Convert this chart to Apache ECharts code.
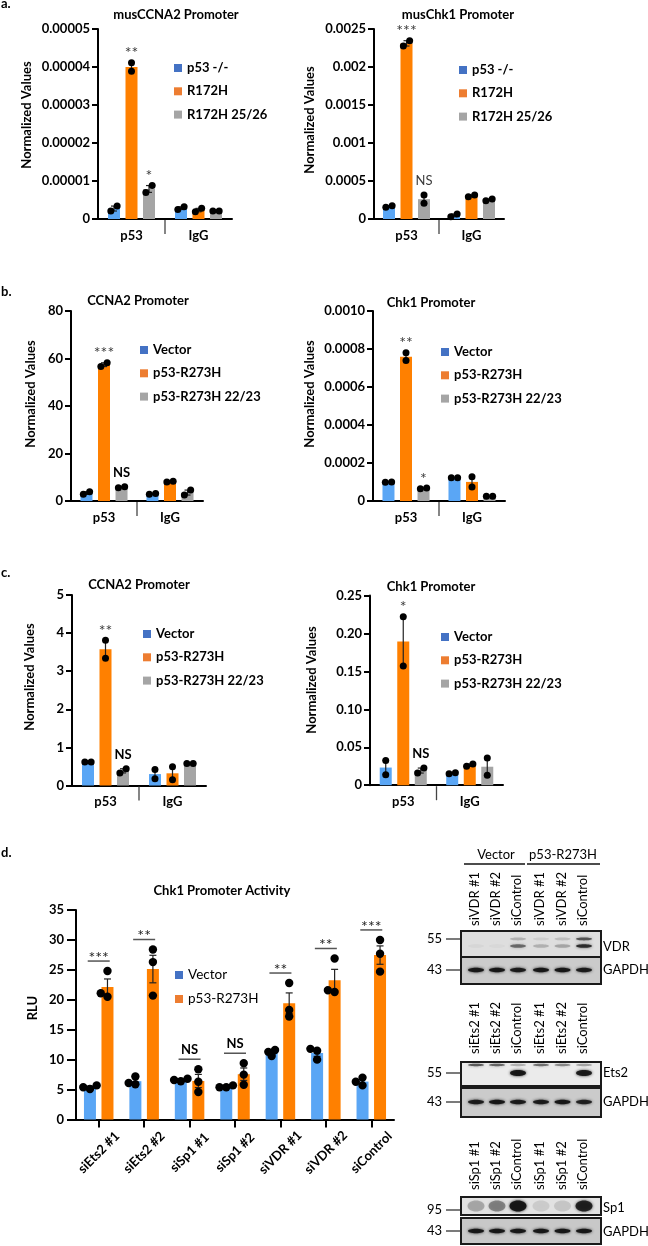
<!DOCTYPE html>
<html><head><meta charset="utf-8">
<script src="https://cdn.jsdelivr.net/npm/echarts@6/dist/echarts.min.js"></script>
<style>html,body{margin:0;padding:0;background:#fff}#c{width:648px;height:1246px}</style>
</head><body><div id="c"></div>
<script>
// ================= DATA =================
const chipGroups = ['p53', 'IgG'];

// a. musCCNA2 promoter — replicates per group [p53, IgG]
const aCcna2Names = ['p53 -/-', 'R172H', 'R172H 25/26'];
const aCcna2KO    = [[0.0000021, 0.0000034], [0.0000025, 0.0000032]];
const aCcna2R172H = [[0.0000411, 0.0000389], [0.0000019, 0.0000028]];
const aCcna2R2526 = [[0.0000088, 0.0000070], [0.0000021, 0.0000021]];
const aCcna2Sig   = ['', '**', '*'];
const aCcna2Ticks = ['0', '0.00001', '0.00002', '0.00003', '0.00004', '0.00005'];

// a. musChk1 promoter
const aChk1Names = ['p53 -/-', 'R172H', 'R172H 25/26'];
const aChk1KO    = [[0.000154, 0.000175], [0.000030, 0.000066]];
const aChk1R172H = [[0.002346, 0.002276], [0.000294, 0.000316]];
const aChk1R2526 = [[0.000316, 0.000206], [0.000241, 0.000263]];
const aChk1Sig   = ['', '***', 'NS'];
const aChk1Ticks = ['0', '0.0005', '0.001', '0.0015', '0.002', '0.0025'];

// b. CCNA2 promoter
const hNames = ['Vector', 'p53-R273H', 'p53-R273H 22/23'];
const bCcna2Vec   = [[2.8, 3.9], [2.8, 3.2]];
const bCcna2R273H = [[56.6, 58.2], [8.0, 8.3]];
const bCcna2R2223 = [[5.6, 6.0], [2.5, 4.6]];
const bCcna2Sig   = ['', '***', 'NS'];
const bCcna2Ticks = ['0', '20', '40', '60', '80'];

// b. Chk1 promoter
const bChk1Vec   = [[0.0000988, 0.0001005], [0.000122, 0.000122]];
const bChk1R273H = [[0.00078, 0.000739], [0.000127, 0.000074]];
const bChk1R2223 = [[0.000065, 0.000069], [0.000025, 0.000025]];
const bChk1Sig   = ['', '**', '*'];
const bChk1Ticks = ['0', '0.0002', '0.0004', '0.0006', '0.0008', '0.0010'];

// c. CCNA2 promoter
const cCcna2Vec   = [[0.62, 0.62], [0.42, 0.18]];
const cCcna2R273H = [[3.81, 3.34], [0.49, 0.15]];
const cCcna2R2223 = [[0.33, 0.44], [0.58, 0.58]];
const cCcna2Sig   = ['', '**', 'NS'];
const cCcna2Ticks = ['0', '1', '2', '3', '4', '5'];

// c. Chk1 promoter
const cChk1Vec   = [[0.0326, 0.0139], [0.015, 0.0165]];
const cChk1R273H = [[0.222, 0.157], [0.025, 0.028]];
const cChk1R2223 = [[0.016, 0.0226], [0.0357, 0.013]];
const cChk1Sig   = ['', '*', 'NS'];
const cChk1Ticks = ['0', '0.05', '0.10', '0.15', '0.20', '0.25'];

// d. Chk1 promoter activity (RLU), 3 replicates each
const dCats   = ['siEts2 #1', 'siEts2 #2', 'siSp1 #1', 'siSp1 #2', 'siVDR #1', 'siVDR #2', 'siControl'];
const dNames  = ['Vector', 'p53-R273H'];
const dVector = [[5.7, 5.4, 5.1], [7.2, 6.1, 5.9], [6.8, 6.6, 6.4], [5.7, 5.4, 5.4], [11.6, 11.3, 10.6], [11.8, 11.5, 10.0], [7.0, 6.3, 5.7]];
const dR273H  = [[24.8, 21.1, 20.5], [28.4, 26.3, 20.7], [8.4, 6.3, 4.6], [9.4, 7.5, 5.8], [22.8, 18.3, 17.2], [26.9, 21.6, 21.3], [30.0, 27.7, 24.7]];
const dSig    = ['***', '**', 'NS', 'NS', '**', '**', '***'];
const dTicks  = ['0', '5', '10', '15', '20', '25', '30', '35'];

// ================= STYLE / LAYOUT =================
const FF = 'Lato';
const BAR_COLORS = ['#5AA6F5', '#FF8000', '#A5A5A5'];
const LEG_COLORS = ['#4472C4', '#ED7D31', '#A5A5A5'];

const chipPanels = [
  { title: 'musCCNA2 Promoter', tx: 176, ty: 15, names: aCcna2Names, reps: [aCcna2KO, aCcna2R172H, aCcna2R2526], sig: aCcna2Sig, ticks: aCcna2Ticks,
    grid: { left: 98, top: 29, width: 134, height: 190 }, leg: { left: 174, y0: 68 }, yn: { x: 27, y: 115 }, nsBold: false },
  { title: 'musChk1 Promoter', tx: 458, ty: 15, names: aChk1Names, reps: [aChk1KO, aChk1R172H, aChk1R2526], sig: aChk1Sig, ticks: aChk1Ticks,
    grid: { left: 374, top: 29, width: 130, height: 190 }, leg: { left: 459, y0: 70 }, yn: { x: 310, y: 120 }, nsBold: false },
  { title: 'CCNA2 Promoter', tx: 138, ty: 301, names: hNames, reps: [bCcna2Vec, bCcna2R273H, bCcna2R2223], sig: bCcna2Sig, ticks: bCcna2Ticks,
    grid: { left: 71, top: 311, width: 132, height: 190 }, leg: { left: 140, y0: 350 }, yn: { x: 31, y: 394 }, nsBold: true },
  { title: 'Chk1 Promoter', tx: 431, ty: 303, names: hNames, reps: [bChk1Vec, bChk1R273H, bChk1R2223], sig: bChk1Sig, ticks: bChk1Ticks,
    grid: { left: 373, top: 311, width: 132, height: 190 }, leg: { left: 441, y0: 352 }, yn: { x: 310, y: 394 }, nsBold: true },
  { title: 'CCNA2 Promoter', tx: 139, ty: 585, names: hNames, reps: [cCcna2Vec, cCcna2R273H, cCcna2R2223], sig: cCcna2Sig, ticks: cCcna2Ticks,
    grid: { left: 72, top: 595, width: 134, height: 190.5 }, leg: { left: 143, y0: 634 }, yn: { x: 30, y: 677 }, nsBold: true },
  { title: 'Chk1 Promoter', tx: 431, ty: 587, names: hNames, reps: [cChk1Vec, cChk1R273H, cChk1R2223], sig: cChk1Sig, ticks: cChk1Ticks,
    grid: { left: 370, top: 595.5, width: 133, height: 189.7 }, leg: { left: 441, y0: 637 }, yn: { x: 312, y: 680 }, nsBold: true }
];

function mean(a) { return a.reduce((s, v) => s + v, 0) / a.length; }
function sem(a) {
  const n = a.length; if (n < 2) return 0;
  const m = mean(a);
  return Math.sqrt(a.reduce((s, x) => s + (x - m) * (x - m), 0) / (n - 1) / n);
}
function ln(x1, y1, x2, y2, w, c) {
  return { type: 'line', shape: { x1, y1, x2, y2 }, style: { stroke: c || '#111', lineWidth: w } };
}
function tx(x, y, text, font, o) {
  o = o || {};
  const al = o.align || 'center', va = o.va || 'middle';
  return { type: 'text', x: x, y: y, rotation: o.rot || 0, silent: true,
    style: { text: text, x: 0, y: 0, font: font, fill: o.fill || '#000', align: al, verticalAlign: va, textAlign: al, textVerticalAlign: va } };
}
function spread(ys, r) {
  if (ys.length === 2) return Math.abs(ys[0] - ys[1]) < 2 * r ? [-0.9 * r, 0.9 * r] : [0, 0];
  const placed = [], offs = [];
  const cands = [0, -0.8 * r, 0.8 * r, -1.6 * r, 1.6 * r];
  ys.forEach(y => {
    let o = 0;
    for (const c of cands) { if (placed.every(p => Math.hypot(p[0] - c, p[1] - y) >= 1.2 * r)) { o = c; break; } }
    placed.push([o, y]); offs.push(o);
  });
  return offs;
}

function dotsSeries(k, i, n, reps, cfg) {
  return {
    type: 'custom', xAxisIndex: k, yAxisIndex: k, z: 4, silent: true,
    data: reps.map((r, ci) => [ci, mean(r)]),
    renderItem: function (params, api) {
      const ci = api.value(0);
      const vals = reps[params.dataIndex];
      const m = mean(vals), s = sem(vals);
      const c0 = api.coord([ci, 0]);
      const band = api.size([1, 0])[0];
      const x = c0[0] + (i - (n - 1) / 2) * cfg.step;
      const kids = [];
      const yHi = api.coord([ci, m + s])[1], yLo = api.coord([ci, Math.max(0, m - s)])[1];
      if (s > 0) {
        kids.push(ln(x, yLo, x, yHi, cfg.errW, '#222'));
        kids.push(ln(x - cfg.cap, yHi, x + cfg.cap, yHi, cfg.errW, '#222'));
        kids.push(ln(x - cfg.cap, yLo, x + cfg.cap, yLo, cfg.errW, '#222'));
      }
      const ys = vals.map(v => api.coord([ci, v])[1]).sort((a, b) => b - a);
      const offs = spread(ys, cfg.r);
      ys.forEach((y, j) => kids.push({ type: 'circle', shape: { cx: x + offs[j], cy: y, r: cfg.r }, style: { fill: '#000' } }));
      if (cfg.divider && params.dataIndex === 0 && i === 0) {
        const xd = c0[0] + band / 2;
        kids.push(ln(xd, c0[1] + 1, xd, c0[1] + 15, 1.3, '#444'));
      }
      const lab = cfg.sig ? cfg.sig[i] : '';
      if (ci === 0 && lab) {
        const top = Math.min(yHi, ...ys);
        const isNS = lab === 'NS';
        const font = isNS ? ((cfg.nsBold ? 'bold ' : '') + '13px ' + FF) : ('16px ' + FF);
        kids.push(tx(x, top - (isNS ? 14 : 9.5), lab, font, { fill: isNS && cfg.nsBold ? '#000' : '#3a3a3a' }));
      }
      return { type: 'group', children: kids };
    }
  };
}

const grids = [], xAxes = [], yAxes = [], series = [], legends = [], gfx = [];
const boldLab = { color: '#000', fontFamily: FF, fontWeight: 'bold', fontSize: 13 };

chipPanels.forEach((p, k) => {
  grids.push(Object.assign({}, p.grid));
  xAxes.push({ type: 'category', gridIndex: k, data: chipGroups,
    axisLine: { lineStyle: { color: '#000', width: 2 } }, axisTick: { show: false },
    axisLabel: Object.assign({ margin: 10 }, boldLab) });
  const tv = p.ticks.map(Number), interval = tv[1] - tv[0];
  yAxes.push({ type: 'value', gridIndex: k, min: 0, max: tv[tv.length - 1], interval: interval,
    axisLine: { show: true, lineStyle: { color: '#000', width: 2 } },
    axisTick: { show: true, length: 6, lineStyle: { color: '#000', width: 2 } },
    splitLine: { show: false },
    axisLabel: Object.assign({ margin: 8, formatter: v => p.ticks[Math.round(v / interval)] }, boldLab) });
  p.names.forEach((nm, i) => {
    series.push({ type: 'bar', name: nm, xAxisIndex: k, yAxisIndex: k, data: p.reps[i].map(mean),
      barWidth: 12, barGap: '46%', itemStyle: { color: BAR_COLORS[i] }, silent: true });
  });
  p.names.forEach((nm, i) => {
    series.push(dotsSeries(k, i, 3, p.reps[i], { step: 17.52, r: 3.5, cap: 3, errW: 1.2, sig: p.sig, divider: true, nsBold: p.nsBold }));
  });
  legends.push({ orient: 'vertical', left: p.leg.left, top: p.leg.y0 - 8, itemWidth: 8, itemHeight: 8, itemGap: 7.3, padding: 0,
    icon: 'rect', selectedMode: false,
    data: p.names.map((n, i) => ({ name: n, itemStyle: { color: LEG_COLORS[i] } })),
    textStyle: { color: '#000', fontFamily: FF, fontWeight: 'bold', fontSize: 13, lineHeight: 16 } });
  gfx.push(tx(p.tx, p.ty, p.title, 'bold 13px ' + FF));
  gfx.push(tx(p.yn.x, p.yn.y, 'Normalized Values', 'bold 13px ' + FF, { rot: Math.PI / 2 }));
});

// ----- panel d -----
const kd = 6;
grids.push({ left: 76, top: 910, width: 318, height: 209.5 });
xAxes.push({ type: 'category', gridIndex: kd, data: dCats,
  axisLine: { lineStyle: { color: '#000', width: 2 } },
  axisTick: { show: true, alignWithLabel: true, length: 8, lineStyle: { color: '#000', width: 2 } },
  axisLabel: Object.assign({ margin: 33, rotate: 45, interval: 0, align: 'center', verticalAlign: 'middle' }, boldLab) });
const dtv = dTicks.map(Number), dInt = dtv[1] - dtv[0];
yAxes.push({ type: 'value', gridIndex: kd, min: 0, max: dtv[dtv.length - 1], interval: dInt,
  axisLine: { show: true, lineStyle: { color: '#000', width: 2 } },
  axisTick: { show: true, length: 9, lineStyle: { color: '#000', width: 2 } },
  splitLine: { show: false },
  axisLabel: Object.assign({ margin: 12, formatter: v => dTicks[Math.round(v / dInt)] }, boldLab) });
[dVector, dR273H].forEach((reps, i) => {
  series.push({ type: 'bar', name: dNames[i], xAxisIndex: kd, yAxisIndex: kd, data: reps.map(mean),
    barWidth: 12, barGap: '46%', itemStyle: { color: BAR_COLORS[i] }, silent: true });
});
[dVector, dR273H].forEach((reps, i) => {
  series.push(dotsSeries(kd, i, 2, reps, { step: 17.52, r: 4.2, cap: 3.5, errW: 1.2, sig: null, divider: false }));
});
series.push({ type: 'custom', xAxisIndex: kd, yAxisIndex: kd, z: 5, silent: true,
  data: dCats.map((c, ci) => [ci, Math.max(...dVector[ci], ...dR273H[ci], mean(dR273H[ci]) + sem(dR273H[ci]))]),
  renderItem: function (params, api) {
    const p = api.coord([api.value(0), api.value(1)]);
    const yl = p[1] - 10;
    const lab = dSig[params.dataIndex];
    const isNS = lab === 'NS';
    return { type: 'group', children: [
      ln(p[0] - 11, yl, p[0] + 11, yl, 1.5, '#555'),
      tx(p[0], yl - (isNS ? 9 : 3.5), lab, (isNS ? 'bold 13px ' : '16px ') + FF, { fill: isNS ? '#000' : '#222' })
    ] };
  } });
legends.push({ orient: 'vertical', left: 175, top: 975 - 8, itemWidth: 8, itemHeight: 8, itemGap: 8, padding: 0,
  icon: 'rect', selectedMode: false,
  data: dNames.map((n, i) => ({ name: n, itemStyle: { color: LEG_COLORS[i] } })),
  textStyle: { color: '#000', fontFamily: FF, fontSize: 13.5, lineHeight: 16 } });
gfx.push(tx(222, 891, 'Chk1 Promoter Activity', 'bold 13px ' + FF));
gfx.push(tx(33, 1008, 'RLU', 'bold 13px ' + FF, { rot: Math.PI / 2 }));

// panel letters
[['a.', 4], ['b.', 292], ['c.', 573], ['d.', 853]].forEach(a => gfx.push(tx(1, a[1], a[0], 'bold 13px ' + FF, { align: 'left' })));

// ----- western blots (decorative) -----
const LANE_X = [475, 496, 517, 540, 561.5, 583];
function blot(cfg) {
  const els = [];
  cfg.lanes.forEach((t, j) => els.push(tx(LANE_X[j], cfg.laneBottom, t, '13px ' + FF, { rot: Math.PI / 2, align: 'left' })));
  cfg.boxes.forEach(b => {
    els.push({ type: 'rect', shape: { x: 461, y: b.y, width: 140, height: b.h }, style: { fill: b.fill, stroke: '#1a1a1a', lineWidth: 2 } });
    b.bands.forEach(bd => bd.a.forEach((a, j) => {
      if (a > 0) els.push({ type: 'ellipse', silent: true, shape: { cx: LANE_X[j] + 1, cy: bd.y, rx: bd.rx || 8, ry: bd.ry || 2.2 },
        style: { fill: 'rgba(20,20,20,' + a + ')', shadowBlur: 3, shadowColor: 'rgba(20,20,20,' + a + ')' } });
    }));
    els.push(tx(603, b.ly, b.label, '13px ' + FF, { align: 'left' }));
  });
  cfg.markers.forEach(mk => {
    els.push(tx(442, mk.y, mk.t, '13px ' + FF, { align: 'right' }));
    els.push(ln(446, mk.y, 461, mk.y, 1.2, '#222'));
  });
  return els;
}
gfx.push(tx(496, 855, 'Vector', '13px ' + FF));
gfx.push(tx(563, 855, 'p53-R273H', '13px ' + FF));
gfx.push(ln(464, 864, 525, 864, 1.5, '#111'));
gfx.push(ln(527, 864, 600, 864, 1.5, '#111'));
blot({ lanes: ['siVDR #1', 'siVDR #2', 'siControl', 'siVDR #1', 'siVDR #2', 'siControl'], laneBottom: 926,
  boxes: [
    { y: 931, h: 26, fill: '#dedede', label: 'VDR', ly: 947, bands: [
      { y: 939, a: [0, 0, 0.2, 0.08, 0.15, 0.6], ry: 1.4 },
      { y: 946, a: [0.04, 0.03, 0.5, 0.2, 0.25, 0.8], ry: 1.8 } ] },
    { y: 957, h: 27, fill: '#cbcbcb', label: 'GAPDH', ly: 970, bands: [
      { y: 970, a: [0.95, 0.95, 0.9, 0.95, 0.95, 0.9], ry: 2.2 } ] } ],
  markers: [{ t: '55', y: 939 }, { t: '43', y: 970 }] }).forEach(e => gfx.push(e));
blot({ lanes: ['siEts2 #1', 'siEts2 #2', 'siControl', 'siEts2 #1', 'siEts2 #2', 'siControl'], laneBottom: 1054,
  boxes: [
    { y: 1062, h: 24, fill: '#ebebeb', label: 'Ets2', ly: 1073, bands: [
      { y: 1065, a: [0.6, 0.55, 0.25, 0.5, 0.4, 0.3], ry: 1.2 },
      { y: 1073, a: [0, 0, 0.95, 0, 0, 0.9], ry: 3 } ] },
    { y: 1088, h: 29, fill: '#cbcbcb', label: 'GAPDH', ly: 1102, bands: [
      { y: 1102, a: [0.9, 0.95, 0.9, 0.9, 0.95, 0.85], ry: 2.2 } ] } ],
  markers: [{ t: '55', y: 1073 }, { t: '43', y: 1102 }] }).forEach(e => gfx.push(e));
blot({ lanes: ['siSp1 #1', 'siSp1 #2', 'siControl', 'siSp1 #1', 'siSp1 #2', 'siControl'], laneBottom: 1190,
  boxes: [
    { y: 1197, h: 18, fill: '#e2e2e2', label: 'Sp1', ly: 1208, bands: [
      { y: 1206, a: [0.25, 0.4, 0.95, 0.1, 0.12, 0.85], ry: 5.5, rx: 8.5 } ] },
    { y: 1218, h: 26, fill: '#c8c8c8', label: 'GAPDH', ly: 1232, bands: [
      { y: 1231, a: [0.95, 0.95, 0.95, 0.95, 0.95, 0.95], ry: 2.2 } ] } ],
  markers: [{ t: '95', y: 1210 }, { t: '43', y: 1231 }] }).forEach(e => gfx.push(e));

const chart = echarts.init(document.getElementById('c'));
chart.setOption({
  animation: false,
  backgroundColor: '#fff',
  grid: grids, xAxis: xAxes, yAxis: yAxes, legend: legends, series: series,
  graphic: { elements: gfx }
});
</script></body></html>
